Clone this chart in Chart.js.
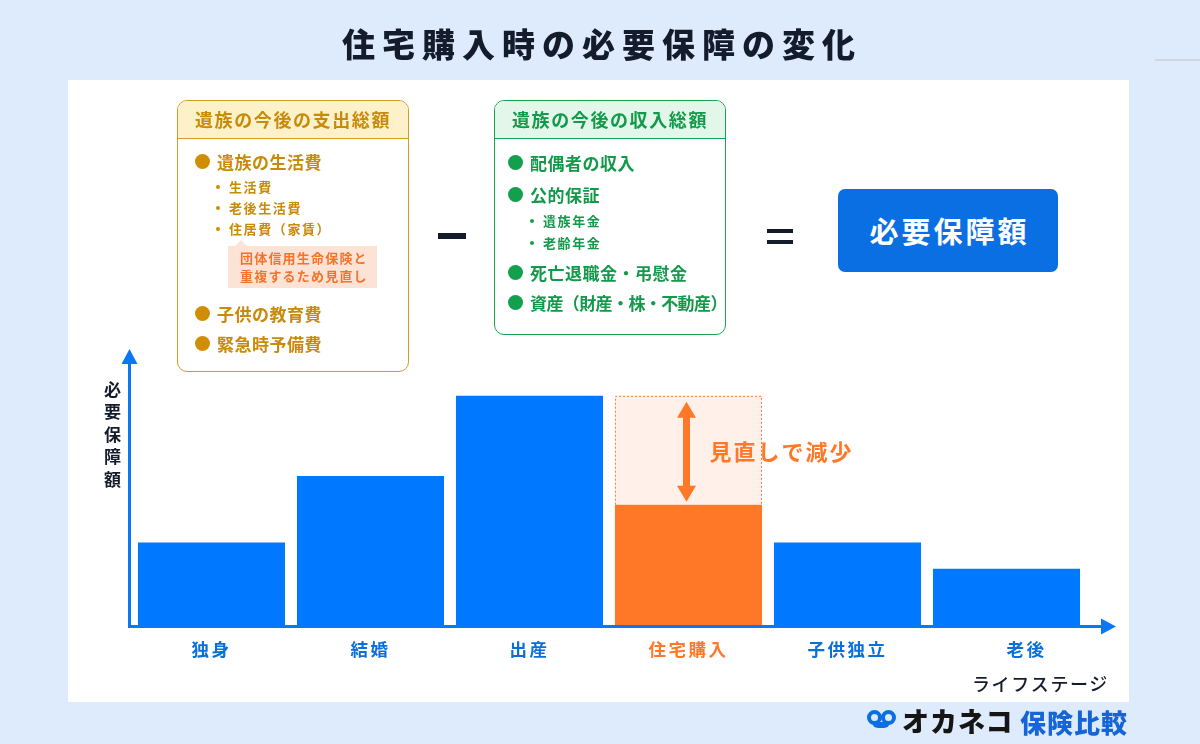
<!DOCTYPE html>
<html lang="ja">
<head>
<meta charset="utf-8">
<title>住宅購入時の必要保障の変化</title>
<script src="https://cdn.jsdelivr.net/npm/chart.js@4.4.0/dist/chart.umd.min.js"></script>
<style>
  body { margin: 0; width: 1200px; height: 744px; position: relative; overflow: hidden;
         background: #ddebfc; font-family: 'Noto Sans CJK JP', 'Noto Sans', sans-serif; }
  .abs { position: absolute; }
  #panel { left: 68px; top: 80px; width: 1061px; height: 622px; background: #fff; }
  #chart { position: absolute; left: 0; top: 0; z-index: 1; }
  .ov { z-index: 2; }
  #title { left: 0; width: 1200px; top: 20px; text-align: center; font-size: 33px; font-weight: 900;
           letter-spacing: 7px; color: #141c2b; line-height: 46px; padding-left: 4px; box-sizing: border-box; }
  #hline { left: 1155px; top: 59px; width: 45px; height: 2px; background: #cfd6de; }

  .box { position: absolute; z-index: 2; background: #fff; border-radius: 10px; overflow: hidden; }
  .box .hd { height: 37px; line-height: 37px; text-align: center; font-size: 18px; font-weight: 700; letter-spacing: 1.6px; }
  .it { position: absolute; height: 24px; display: flex; align-items: center; font-size: 17px; font-weight: 700;
        letter-spacing: 0.5px; white-space: nowrap; }
  .it i { display: block; width: 15px; height: 15px; border-radius: 50%; margin-right: 7px; }
  .sub { position: absolute; height: 20px; display: flex; align-items: center; font-size: 13px; font-weight: 700;
         letter-spacing: 1.6px; white-space: nowrap; }
  .sub i { display: block; width: 4px; height: 4px; border-radius: 50%; margin: 2px 9px 0 0; }

  #exp { left: 177px; top: 100px; width: 230px; height: 270px; border: 1px solid #d39a2a; }
  #exp .hd { background: #fdf1c9; border-bottom: 1px solid #d39a2a; color: #c98a0a; }
  #exp .it, #exp .sub { color: #c98a0a; }
  #exp i { background: #cf8e05; }
  #exp .it { left: 17px; }
  #exp .sub { left: 38px; }
  #note { position: absolute; left: 50px; top: 145px; width: 149px; height: 42px; background: #fde3d5;
          color: #f4732b; font-size: 13px; font-weight: 700; letter-spacing: 1.2px; line-height: 18px;
          padding: 3px 0 0 12px; box-sizing: border-box; }
  #note:before { content: ''; position: absolute; left: 7px; top: -6px; border-left: 6px solid transparent;
                 border-right: 6px solid transparent; border-bottom: 6px solid #fde3d5; }

  #inc { left: 494px; top: 100px; width: 230px; height: 233px; border: 1px solid #1ba150; }
  #inc .hd { background: #e2f7ea; border-bottom: 1px solid #1ba150; color: #129a4a; }
  #inc .it, #inc .sub { color: #129a4a; }
  #inc i { background: #12a04c; }
  #inc .it { left: 13px; }
  #inc .sub { left: 35px; }

  #minus { left: 438px; top: 233px; width: 28px; height: 6px; background: #141c2b; }
  .eq { left: 767px; width: 26px; height: 4px; background: #141c2b; }
  #need { left: 838px; top: 189px; width: 220px; height: 83px; border-radius: 7px; background: #0a6fe3;
          color: #fff; font-size: 29px; font-weight: 700; letter-spacing: 3px; text-align: center; line-height: 83px;
          padding-left: 3px; box-sizing: border-box; }

  #ytitle { left: 100px; top: 381px; writing-mode: vertical-rl; font-size: 17px; font-weight: 700;
            letter-spacing: 5.5px; color: #141c2b; }
  #xtitle { left: 972px; top: 670px; font-size: 18px; font-weight: 500; letter-spacing: 1.6px; color: #141c2b; line-height: 26px; }

  #logo-icon { left: 867px; top: 710px; width: 30px; height: 22px; }
  #logo-icon span { position: absolute; top: 0; width: 15px; height: 15px; border: 4.5px solid #0a6fe3; border-radius: 50%; box-sizing: border-box; }
  #logo-icon b { position: absolute; left: 5px; top: 12px; width: 18px; height: 6px; background: #0a6fe3; border-radius: 0 0 6px 6px; }
  #logo-a { left: 902px; top: 704px; font-size: 27px; font-weight: 900; color: #151515; letter-spacing: 1px; line-height: 34px; }
  #logo-b { left: 1020px; top: 705px; font-size: 26px; font-weight: 900; color: #1565d8; letter-spacing: 1px; line-height: 34px; }
</style>
</head>
<body>
<div id="panel" class="abs"></div>
<canvas id="chart" width="1200" height="744"></canvas>

<div id="title" class="abs ov">住宅購入時の必要保障の変化</div>
<div id="hline" class="abs ov"></div>

<div id="exp" class="box">
  <div class="hd">遺族の今後の支出総額</div>
  <div class="it" style="top:48px"><i></i>遺族の生活費</div>
  <div class="sub" style="top:75px"><i></i>生活費</div>
  <div class="sub" style="top:96px"><i></i>老後生活費</div>
  <div class="sub" style="top:117px"><i></i>住居費（家賃）</div>
  <div id="note">団体信用生命保険と<br>重複するため見直し</div>
  <div class="it" style="top:200px"><i></i>子供の教育費</div>
  <div class="it" style="top:230px"><i></i>緊急時予備費</div>
</div>

<div id="minus" class="abs ov"></div>

<div id="inc" class="box">
  <div class="hd">遺族の今後の収入総額</div>
  <div class="it" style="top:49px"><i></i>配偶者の収入</div>
  <div class="it" style="top:81px"><i></i>公的保証</div>
  <div class="sub" style="top:109px"><i></i>遺族年金</div>
  <div class="sub" style="top:131px"><i></i>老齢年金</div>
  <div class="it" style="top:159px"><i></i>死亡退職金・弔慰金</div>
  <div class="it" style="top:189px; letter-spacing:-0.6px"><i></i>資産（財産・株・不動産）</div>
</div>

<div class="abs ov eq" style="top:229px"></div>
<div class="abs ov eq" style="top:240px"></div>
<div id="need" class="abs ov">必要保障額</div>

<div id="ytitle" class="abs ov">必要保障額</div>
<div id="xtitle" class="abs ov">ライフステージ</div>

<div id="logo-icon" class="abs ov"><b></b><span style="left:0"></span><span style="left:14px"></span></div>
<div id="logo-a" class="abs ov">オカネコ</div>
<div id="logo-b" class="abs ov">保険比較</div>

<script>
// life stages and the needed coverage (arbitrary units)
const stages = ['独身', '結婚', '出産', '住宅購入', '子供独立', '老後'];
const needAmount = [36, 65, 100, 52.5, 36, 24.5];
// coverage before the review at the house purchase stage
const beforeReview = [null, null, null, 100, null, null];
const reduction = beforeReview.map((v, i) => v == null ? 0 : v - needAmount[i]);
const highlightIndex = 3;

const BLUE = '#0078ff';
const ORANGE = '#ff7828';
const GHOST = '#fff1e9';
const AXIS = '#0a78f5';
const TICK_BLUE = '#0a6fd9';

const overlayPlugin = {
    id: 'overlay',
    beforeDraw(chart) {
        chart.ctx.letterSpacing = '2.5px';
    },
    afterDraw(chart) {
        const { ctx, chartArea } = chart;
        const ghost = chart.getDatasetMeta(1).data[highlightIndex];
        ctx.save();

        // dashed outline of the reduced amount
        const l = ghost.x - ghost.width / 2, r = ghost.x + ghost.width / 2;
        ctx.strokeStyle = ORANGE;
        ctx.lineWidth = 1;
        ctx.setLineDash([2, 2]);
        ctx.beginPath();
        ctx.moveTo(l + 0.5, ghost.base);
        ctx.lineTo(l + 0.5, ghost.y + 0.5);
        ctx.lineTo(r - 0.5, ghost.y + 0.5);
        ctx.lineTo(r - 0.5, ghost.base);
        ctx.stroke();
        ctx.setLineDash([]);

        // double arrow
        const ax = ghost.x - 2, top = ghost.y + 6, bot = ghost.base - 3;
        ctx.fillStyle = ORANGE;
        ctx.fillRect(ax - 3.5, top + 12, 7, bot - top - 24);
        ctx.beginPath();
        ctx.moveTo(ax, top); ctx.lineTo(ax + 9.5, top + 16); ctx.lineTo(ax - 9.5, top + 16); ctx.closePath();
        ctx.moveTo(ax, bot); ctx.lineTo(ax + 9.5, bot - 16); ctx.lineTo(ax - 9.5, bot - 16); ctx.closePath();
        ctx.fill();

        ctx.letterSpacing = '2px';
        ctx.font = "bold 22px 'Noto Sans CJK JP'";
        ctx.textBaseline = 'middle';
        ctx.textAlign = 'left';
        ctx.fillText('見直しで減少', ghost.x + 21, (ghost.y + ghost.base) / 2 + 1);

        // axes with arrow heads
        ctx.fillStyle = AXIS;
        ctx.strokeStyle = AXIS;
        ctx.lineWidth = 3;
        const yx = chartArea.left - 2.5, xy = chartArea.bottom + 1.5;
        ctx.beginPath();
        ctx.moveTo(yx, xy + 1.5);
        ctx.lineTo(yx, chartArea.top + 12);
        ctx.moveTo(yx - 1.5, xy);
        ctx.lineTo(chartArea.right + 18, xy);
        ctx.stroke();
        ctx.beginPath();
        ctx.moveTo(yx, chartArea.top - 1); ctx.lineTo(yx + 8, chartArea.top + 14); ctx.lineTo(yx - 8, chartArea.top + 14); ctx.closePath();
        ctx.moveTo(chartArea.right + 30, xy); ctx.lineTo(chartArea.right + 15, xy - 8); ctx.lineTo(chartArea.right + 15, xy + 8); ctx.closePath();
        ctx.fill();

        ctx.restore();
        ctx.letterSpacing = '0px';
    }
};

new Chart(document.getElementById('chart'), {
    type: 'bar',
    data: {
        labels: stages,
        datasets: [{
            label: '必要保障額',
            data: needAmount,
            backgroundColor: stages.map((s, i) => i === highlightIndex ? ORANGE : BLUE),
            borderWidth: 0
        }, {
            label: '見直し前',
            data: reduction,
            backgroundColor: GHOST,
            borderWidth: 0
        }]
    },
    options: {
        responsive: false,
        devicePixelRatio: 1,
        animation: false,
        categoryPercentage: 1,
        barPercentage: 0.925,
        layout: { padding: { left: 132, right: 114, top: 350, bottom: 74 } },
        scales: {
            x: {
                stacked: true,
                border: { display: false },
                grid: { display: false, drawTicks: false },
                ticks: {
                    padding: 14,
                    font: { family: "'Noto Sans CJK JP'", size: 17.5, weight: 'bold' },
                    color: (c) => c.index === highlightIndex ? ORANGE : TICK_BLUE,
                    // the last label sits a little right of its bar in the original
                    callback: (v, i) => i === stages.length - 1 ? '\u3000\u3000' + stages[i] : stages[i]
                },
                afterFit: (s) => { s.height = 45; }
            },
            y: {
                stacked: true,
                display: false,
                min: 0,
                max: 120
            }
        },
        plugins: {
            legend: { display: false },
            tooltip: { enabled: false }
        }
    },
    plugins: [overlayPlugin]
});
</script>
</body>
</html>
